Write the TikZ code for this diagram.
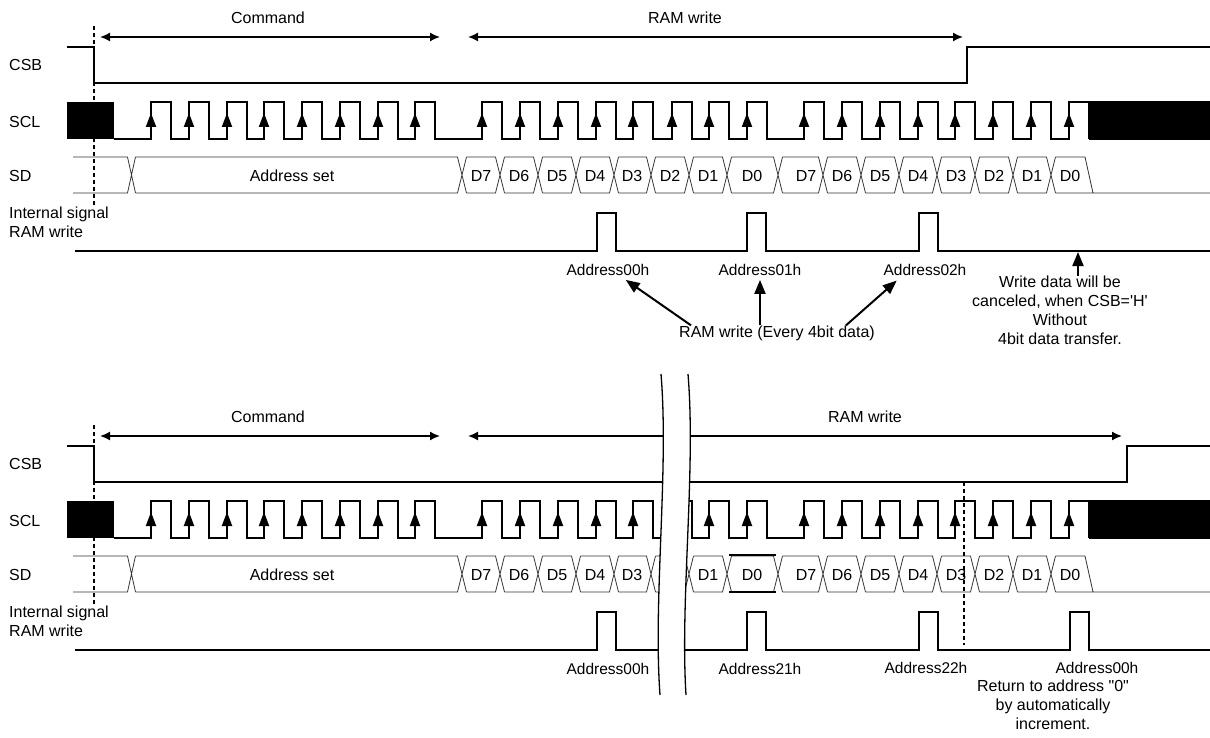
\documentclass[tikz,border=0pt]{standalone}
\usepackage{fontspec}
\setmainfont{Liberation Sans}
\usetikzlibrary{arrows.meta,positioning,calc}

% clock rising edges and data crossings (x in px)
\newcommand{\clkedges}{151,189,227,264,302,340,378,415,482,520,558,596,633,672,709,747,804,842,880,918,955,993,1031,1069}
\newcommand{\sdcross}{462,500,538,576,614,651,689,727,778,823,861,899,937,975,1013,1051}

\tikzset{
	sig/.style={black, line width=2pt},
	bus/.style={black!80, line width=0.8pt},
	span/.style={black, line width=1.6pt, {Latex[length=10pt,width=9pt]}-{Latex[length=10pt,width=9pt]}},
	rise/.style={black, line width=2pt, -{Triangle[length=14pt,width=10pt]}},
	point/.style={black, line width=2pt, -{Triangle[length=14pt,width=11pt]}},
	lbl/.style={inner sep=0pt, font=\fontsize{16}{19}\selectfont},
	addr/.style={inner sep=0pt, font=\fontsize{15.5}{19}\selectfont},
}

\begin{document}
\begin{tikzpicture}[x=1pt, y=-1pt]
	\useasboundingbox (0,0) rectangle (1210,738);

	\foreach \dy/\csbup/\tip/\ramx/\pl in {0/967/963/685/{597,747,919}, 399/1127/1122/865/{597,747,919,1070}} {
		\begin{scope}[shift={(0,\dy)}]
			\node[lbl, anchor=west] (csb\dy) at (9,65) {CSB};
			\node[lbl, anchor=west] (scl\dy) at (9,122) {SCL};
			\node[lbl, anchor=west] (sd\dy) at (9,176) {SD};
			\node[lbl, anchor=west, align=left] (int\dy) at (9,222) {Internal signal\\RAM write};

			\node[lbl] (cmd\dy) at (268,18) {Command};
			\node[lbl] (ram\dy) at (\ramx,18) {RAM write};
			\coordinate (cmdl\dy) at (100,37);
			\coordinate (cmdr\dy) at (440,37);
			\coordinate (raml\dy) at (468,37);
			\coordinate (ramr\dy) at (\tip,37);
			\draw[span] (cmdl\dy) -- (cmdr\dy);
			\draw[span] (raml\dy) -- (ramr\dy);

			\draw[black, line width=1.3pt, dash pattern=on 4pt off 3pt] (94,26) -- (94,205);

			% CSB
			\draw[sig] (67,47) -- (94,47) -- (94,83) -- (\csbup,83) -- (\csbup,47) -- (1210,47);

			% SCL
			\fill (67,102) rectangle (114,139);
			\draw[sig] (114,139) foreach \r in \clkedges {-- (\r,139) -- (\r,102) -- (\r+20,102) -- (\r+20,139)};
			\fill (1089,101) rectangle (1210,140);
			\foreach \r in \clkedges
				\draw[rise] (\r,137) -- (\r,113);

			% SD
			\draw[bus] (73,157) -- (127.5,157) -- (135.5,193) (73,193) -- (127.5,193) -- (135.5,157);
			\foreach \c [remember=\c as \p (initially 131)] in \sdcross
				\draw[bus] (\p+4.5,157) -- (\c-4.5,157) -- (\c+4.5,193) (\p+4.5,193) -- (\c-4.5,193) -- (\c+4.5,157);
			\draw[bus] (1055.5,157) -- (1085,157) -- (1093,193) (1055.5,193) -- (1210,193);
			\node[lbl] (adset\dy) at (292,176) {Address set};
			\foreach \x/\t in {481/D7,519/D6,557/D5,595/D4,632/D3,670/D2,708/D1,752/D0,806/D7,842/D6,880/D5,918/D4,956/D3,994/D2,1032/D1,1070/D0}
				\node[lbl] (d\dy-\x) at (\x,176) {\t};

			% internal RAM write
			\draw[sig] (75,251) foreach \q in \pl {-- (\q,251) -- (\q,213) -- (\q+19,213) -- (\q+19,251)} -- (1210,251);
		\end{scope}
	}

	% upper chart notes
	\node[addr] (a00) at (608,270) {Address00h};
	\node[addr] (a01) at (760,270) {Address01h};
	\node[addr] (a02) at (925,270) {Address02h};
	\node[lbl] (every) at (777,333) {RAM write (Every 4bit data)};
	\draw[point, shorten >=7pt] ([xshift=12pt]every.north west) -- ([xshift=12pt]a00.south);
	\draw[point, shorten >=4pt] (every.north -| a01.south) -- (a01.south);
	\draw[point, shorten >=7pt] ([xshift=-29pt]every.north east) -- ([xshift=-23pt]a02.south);
	\node[lbl, anchor=north, align=center] (cancel) at (1060,276) {Write data will be\\canceled, when CSB=\textquotesingle H\textquotesingle\\Without\\4bit data transfer.};
	\coordinate (wr) at (1078,252);
	\draw[point] (cancel.north -| wr) -- (wr);

	% lower chart notes
	\draw[black, line width=1.6pt] (729,555) -- (776,555) (729,592) -- (776,592);
	\draw[black, line width=1.3pt, dash pattern=on 4pt off 3pt] (964,482) -- (964,645);
	\node[addr] (b00) at (608,669) {Address00h};
	\node[addr] (b21) at (760,669) {Address21h};
	\node[addr] (b22) at (926,668) {Address22h};
	\node[addr] (c00) at (1097,668) {Address00h};
	\node[lbl, anchor=north, align=center] (back) at (1053,680) {Return to address \textquotedbl 0\textquotedbl\\by automatically\\increment.};

	% break
	\fill[white] (661,374) .. controls (669,470) and (653,600) .. (660,695) -- (686,695) .. controls (680,600) and (696,470) .. (688,374) -- cycle;
	\draw[black, line width=1.3pt] (661,374) .. controls (669,470) and (653,600) .. (660,695);
	\draw[black, line width=1.3pt] (688,374) .. controls (696,470) and (680,600) .. (686,695);
\end{tikzpicture}
\end{document}
